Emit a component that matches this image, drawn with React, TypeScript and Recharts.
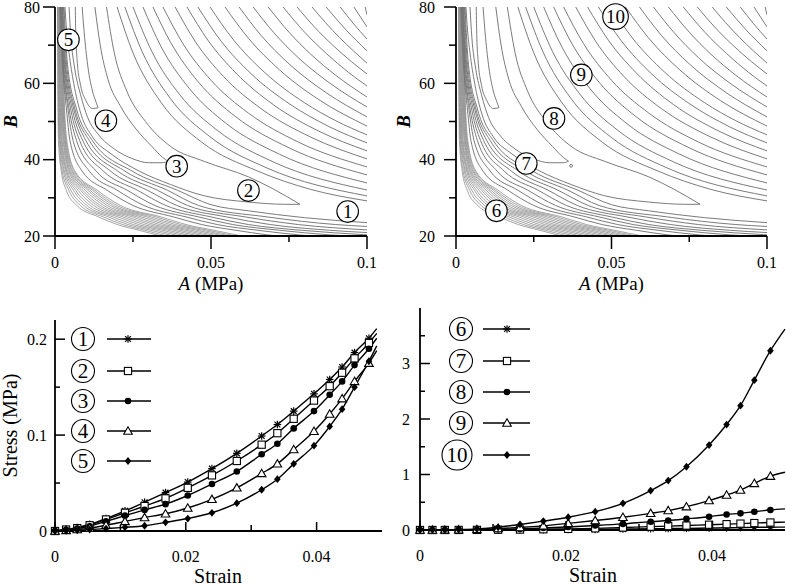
import React from 'react';
import { LineChart, Line, XAxis, YAxis, ReferenceDot, Legend } from 'recharts';

const FONT = '"Liberation Serif", "DejaVu Serif", "Times New Roman", serif';
const GRAY = '#747474';
const BAND_GRAY = '#8e8e8e';

type Pt = [number, number];

// ---------- contour maps: lines in (A [MPa], B) (same field in both maps) ----------
const familyLines: Pt[][] = [
  [[0.0994, 80], [0.0997, 79], [0.1, 77.9]],
  [[0.0958, 80], [0.0979, 77.4], [0.1, 74.76]],
  [[0.0914, 80], [0.0957, 75.6], [0.1, 71.6]],
  [[0.0869, 80], [0.0934, 73.9], [0.1, 68.5]],
  [[0.0824, 80], [0.0867, 75.9], [0.0912, 72.0], [0.1, 65.3]],
  [[0.0776, 80], [0.083, 74.9], [0.089, 70.0], [0.095, 65.7], [0.1, 62.45]],
  [[0.0731, 80], [0.08, 73.4], [0.087, 67.8], [0.094, 62.9], [0.1, 59.3]],
  [[0.0683, 80], [0.075, 73.4], [0.082, 67.6], [0.09, 62.1], [0.1, 56.4]],
  [[0.0635, 80], [0.07, 73.4], [0.078, 66.7], [0.088, 60.1], [0.1, 53.8]],
  [[0.059, 80], [0.066, 72.6], [0.075, 65.1], [0.087, 57.5], [0.1, 51.2]],
  [[0.0545, 80], [0.062, 71.8], [0.072, 63.5], [0.085, 55.5], [0.1, 48.8]],
  [[0.0497, 80], [0.057, 71.6], [0.067, 63.0], [0.08, 54.9], [0.09, 50.2], [0.1, 46.5]],
  [[0.0458, 80], [0.053, 71.3], [0.063, 62.4], [0.075, 54.7], [0.088, 48.6], [0.1, 44.4]],
  [[0.0423, 80], [0.049, 71.3], [0.058, 62.7], [0.07, 54.4], [0.085, 47.3], [0.1, 42.3]],
  [[0.0385, 80], [0.045, 70.9], [0.054, 61.8], [0.066, 53.4], [0.082, 45.9], [0.1, 40.2]],
  [[0.0346, 80], [0.041, 70.4], [0.05, 60.8], [0.062, 52.2], [0.078, 44.6], [0.1, 38.1]],
  [[0.0314, 80], [0.037, 70.8], [0.046, 60.3], [0.058, 51.2], [0.075, 43.1], [0.1, 36.0]],
  [[0.0282, 80], [0.034, 69.6], [0.043, 58.7], [0.055, 49.4], [0.072, 41.4], [0.1, 33.9]],
  [[0.025, 80], [0.031, 68.4], [0.04, 57.0], [0.052, 47.7], [0.07, 39.4], [0.1, 32.05]],
  [[0.0224, 80], [0.028, 68.2], [0.037, 56.0], [0.05, 45.8], [0.068, 37.8], [0.1, 30.5]],
  [[0.0199, 80], [0.025, 68.0], [0.034, 55.0], [0.047, 44.6], [0.065, 37.0], [0.082, 32.2], [0.1, 29.2]],
];

const tongueLines: Pt[][] = [
  [[0.0087, 80], [0.0095, 72], [0.0106, 64], [0.012, 58], [0.0132, 55], [0.0138, 53.6]],
  [[0.0065, 80], [0.0067, 72], [0.0071, 66], [0.0082, 59.5], [0.0099, 55.5], [0.012, 53.4], [0.0138, 53.6]],
  [[0.0128, 80], [0.0145, 70], [0.017, 61], [0.021, 54], [0.026, 48], [0.031, 43.5], [0.0345, 40.6], [0.0362, 39.6]],
  [[0.0045, 80], [0.0051, 72], [0.0063, 64], [0.0082, 57], [0.0105, 51], [0.014, 46.5], [0.019, 42.8], [0.025, 40.2], [0.03, 39.2], [0.0345, 39.2], [0.0362, 39.6]],
  [[0.0165, 80], [0.019, 68], [0.023, 58], [0.029, 50], [0.037, 43.5], [0.048, 39.5], [0.062, 35.5], [0.07, 32.3], [0.0785, 28.3]],
  [[0.0032, 80], [0.0037, 74], [0.0045, 68], [0.006, 60], [0.0083, 52], [0.012, 46], [0.018, 41.5], [0.027, 37], [0.037, 33.5], [0.0475, 30.6], [0.062, 28.9], [0.074, 28.3], [0.0785, 28.3]],
];

const lowerLines: Pt[][] = [
  [[0.0029, 80], [0.004, 65], [0.007, 53], [0.012, 45], [0.0247, 37], [0.0392, 32], [0.05, 28.2], [0.062, 26.6], [0.08, 24.8], [0.1, 23.5]],
  [[0.0027, 80], [0.0037, 65], [0.0065, 53], [0.011, 45], [0.0224, 37], [0.036, 32], [0.046, 28], [0.068, 25], [0.09, 23], [0.1, 22.5]],
  [[0.0025, 80], [0.0034, 65], [0.0061, 53], [0.0099, 45], [0.0201, 37], [0.0328, 32], [0.0425, 28], [0.061, 25], [0.078, 23], [0.1, 21.6]],
  [[0.0023, 80], [0.0032, 65], [0.0056, 53], [0.0089, 45], [0.0178, 37], [0.0296, 32], [0.039, 28], [0.055, 25], [0.069, 23], [0.088, 21.5], [0.1, 20.9]],
  [[0.0021, 80], [0.003, 65], [0.0051, 53], [0.0079, 45], [0.0155, 37], [0.0264, 32], [0.0355, 28], [0.05, 25], [0.062, 23], [0.079, 21.5], [0.1, 20.3]],
  [[0.0019, 80], [0.0028, 65], [0.0046, 53], [0.0069, 45], [0.0132, 37], [0.0231, 32], [0.032, 28], [0.046, 25], [0.057, 23], [0.072, 21.5], [0.088, 20.3], [0.11, 19.5]],
  [[0.0017, 80], [0.0026, 65], [0.0042, 53], [0.0058, 45], [0.011, 37], [0.0199, 32], [0.0285, 28], [0.042, 25], [0.052, 23], [0.065, 21.5], [0.078, 20.3], [0.095, 19.2]],
  [[0.0015, 80], [0.0024, 65], [0.0037, 53], [0.0048, 45], [0.0087, 37], [0.0167, 32], [0.025, 28], [0.038, 25], [0.047, 23], [0.058, 21.5], [0.068, 20.3], [0.085, 19.2]],
];

// dense band of contours along the steep wall: B levels and the A of each line at that level
const bandB = [80, 60, 45, 37, 32, 28, 25, 23, 21.5, 20, 18];
const bandA: number[][] = [
  [0.0008, 0.0009, 0.001, 0.0012, 0.0013, 0.0014, 0.0015, 0.0017, 0.0018, 0.0019, 0.002, 0.0022, 0.0023, 0.0024],
  [0.0009, 0.001, 0.0012, 0.0013, 0.0015, 0.0016, 0.0018, 0.0019, 0.0021, 0.0022, 0.0024, 0.0025, 0.0027, 0.0028],
  [0.0011, 0.0013, 0.0015, 0.0017, 0.0019, 0.0021, 0.0023, 0.0026, 0.0028, 0.003, 0.0032, 0.0034, 0.0036, 0.0038],
  [0.002, 0.0023, 0.0027, 0.003, 0.0034, 0.0037, 0.004, 0.0044, 0.0047, 0.005, 0.0054, 0.0057, 0.0061, 0.0064],
  [0.0036, 0.0044, 0.0051, 0.0059, 0.0066, 0.0074, 0.0082, 0.0089, 0.0097, 0.0105, 0.0112, 0.012, 0.0127, 0.0135],
  [0.007, 0.0081, 0.0092, 0.0102, 0.0113, 0.0124, 0.0135, 0.0145, 0.0156, 0.0167, 0.0178, 0.0188, 0.0199, 0.021],
  [0.014, 0.0155, 0.0171, 0.0186, 0.0202, 0.0217, 0.0232, 0.0248, 0.0263, 0.0278, 0.0294, 0.0309, 0.0325, 0.034],
  [0.02, 0.0217, 0.0234, 0.0251, 0.0268, 0.0285, 0.0302, 0.0318, 0.0335, 0.0352, 0.0369, 0.0386, 0.0403, 0.042],
  [0.027, 0.0288, 0.0307, 0.0325, 0.0344, 0.0362, 0.0381, 0.0399, 0.0418, 0.0436, 0.0455, 0.0473, 0.0492, 0.051],
  [0.034, 0.036, 0.038, 0.04, 0.042, 0.044, 0.046, 0.048, 0.05, 0.052, 0.054, 0.056, 0.058, 0.06],
  [0.05, 0.052, 0.055, 0.057, 0.059, 0.062, 0.064, 0.066, 0.068, 0.071, 0.073, 0.075, 0.078, 0.08],
];

const ovalA = 0.037;
const ovalB = 38.4;

const mapLabelsLeft = [
  { n: '1', a: 0.0938, b: 26.4, r: 10.8 },
  { n: '2', a: 0.062, b: 31.9, r: 10.8 },
  { n: '3', a: 0.039, b: 38.3, r: 10.8 },
  { n: '4', a: 0.0163, b: 50.2, r: 10.8 },
  { n: '5', a: 0.0043, b: 71.4, r: 10.8 },
];
const mapLabelsRight = [
  { n: '6', a: 0.013, b: 26.6, r: 10.8 },
  { n: '7', a: 0.0226, b: 39.0, r: 10.8 },
  { n: '8', a: 0.0315, b: 50.8, r: 10.8 },
  { n: '9', a: 0.0403, b: 62.2, r: 10.8 },
  { n: '10', a: 0.0513, b: 77.5, r: 12.8 },
];

const aTicks = [0, 0.025, 0.05, 0.075, 0.1];
const aMajor = [0, 0.05, 0.1];
const bTicks = [20, 30, 40, 50, 60, 70, 80];
const bMajor = [20, 40, 60, 80];

// ---------- stress–strain curves ----------
const strain = [0, 0.0017, 0.0034, 0.0053, 0.0078, 0.0107, 0.0137, 0.0169, 0.0203, 0.024, 0.0278, 0.0316, 0.034, 0.0365, 0.0396, 0.042, 0.0439, 0.0458, 0.048];
const endStrainLeft = 0.0492;
const endStrainRight = 0.05;
const stress1 = [0, 0.0017, 0.0035, 0.007, 0.013, 0.021, 0.03, 0.04, 0.051, 0.065, 0.081, 0.099, 0.111, 0.125, 0.143, 0.158, 0.171, 0.186, 0.201, 0.211];
const stress2 = [0, 0.0015, 0.003, 0.006, 0.012, 0.019, 0.026, 0.034, 0.045, 0.058, 0.073, 0.09, 0.102, 0.117, 0.136, 0.151, 0.165, 0.18, 0.196, 0.206];
const stress3 = [0, 0.0012, 0.0025, 0.005, 0.01, 0.016, 0.022, 0.028, 0.037, 0.049, 0.062, 0.08, 0.091, 0.107, 0.125, 0.142, 0.156, 0.173, 0.19, 0.201];
const stress4 = [0, 0.0006, 0.0015, 0.003, 0.006, 0.01, 0.014, 0.018, 0.024, 0.033, 0.045, 0.06, 0.07, 0.085, 0.104, 0.122, 0.138, 0.156, 0.175, 0.188];
const stress5 = [0, 0.0002, 0.0007, 0.0015, 0.0025, 0.0038, 0.0055, 0.009, 0.013, 0.019, 0.029, 0.043, 0.054, 0.07, 0.089, 0.109, 0.127, 0.15, 0.177, 0.193];
const stress6 = [0, 0, 0, 0.0003, 0.001, 0.002, 0.003, 0.005, 0.008, 0.012, 0.017, 0.022, 0.026, 0.03, 0.035, 0.04, 0.043, 0.047, 0.05, 0.052];
const stress7 = [0, 0, 0.0002, 0.001, 0.002, 0.005, 0.008, 0.013, 0.02, 0.03, 0.045, 0.06, 0.07, 0.08, 0.095, 0.105, 0.115, 0.125, 0.135, 0.142];
const stress8 = [0, 0, 0.0005, 0.002, 0.005, 0.012, 0.02, 0.035, 0.055, 0.08, 0.11, 0.15, 0.17, 0.2, 0.24, 0.28, 0.3, 0.33, 0.36, 0.38];
const stress9 = [0, 0.0003, 0.001, 0.004, 0.01, 0.025, 0.045, 0.075, 0.12, 0.17, 0.23, 0.3, 0.35, 0.42, 0.53, 0.63, 0.72, 0.84, 0.97, 1.04];
const stress10 = [0, 0.0005, 0.002, 0.008, 0.02, 0.05, 0.1, 0.16, 0.23, 0.33, 0.48, 0.71, 0.89, 1.14, 1.53, 1.9, 2.24, 2.7, 3.23, 3.62];

const leftSeries = [
  { key: 's1', label: '1', kind: 'star', values: stress1 },
  { key: 's2', label: '2', kind: 'square', values: stress2 },
  { key: 's3', label: '3', kind: 'circle', values: stress3 },
  { key: 's4', label: '4', kind: 'triangle', values: stress4 },
  { key: 's5', label: '5', kind: 'diamond', values: stress5 },
];
const rightSeries = [
  { key: 's6', label: '6', kind: 'star', values: stress6 },
  { key: 's7', label: '7', kind: 'square', values: stress7 },
  { key: 's8', label: '8', kind: 'circle', values: stress8 },
  { key: 's9', label: '9', kind: 'triangle', values: stress9 },
  { key: 's10', label: '10', kind: 'diamond', values: stress10 },
];

const leftStressTicks = [0, 0.05, 0.1, 0.15, 0.2];
const leftStressMajor = [0, 0.1, 0.2];
const rightStressTicks = [0, 0.5, 1, 1.5, 2, 2.5, 3, 3.5];
const rightStressMajor = [0, 1, 2, 3];
const strainTicks = [0, 0.01, 0.02, 0.03, 0.04];
const strainMajor = [0, 0.02, 0.04];

// ---------- helpers ----------
const toPts = (l: Pt[]) => l.map(([a, b]) => ({ a, b }));
const bandLines = bandA[0].map((_, i) => bandB.map((b, j) => ({ a: bandA[j][i], b })));
const otherLines = [...lowerLines.map(toPts), ...tongueLines.map(toPts), ...familyLines.map(toPts)];

const buildRows = (series: any[], end: number) =>
  [...strain, end].map((s, i) => {
    const row: any = { strain: s };
    series.forEach((sr) => {
      row[sr.key] = sr.values[i];
    });
    return row;
  });
const rowsLeft = buildRows(leftSeries, endStrainLeft);
const rowsRight = buildRows(rightSeries, endStrainRight);
const markerCount = strain.length;

const isIn = (arr: number[], v: number) => arr.some((m) => Math.abs(m - v) < 1e-9);
const axisStyle = { stroke: '#000', strokeWidth: 1.8 };

function makeXTick(majors: number[], majorLen: number, minorLen: number, dir: number, dy: number) {
  return (props: any) => {
    const { x, y, payload } = props;
    const v = payload.value;
    const major = isIn(majors, v);
    const len = major ? majorLen : minorLen;
    return (
      <g>
        <line x1={x} y1={y} x2={x} y2={y + dir * len} stroke="#000" strokeWidth={1.5} />
        {major && (
          <text x={x} y={y + dy} textAnchor="middle" fontFamily={FONT} fontSize={16} fill="#000">
            {String(v)}
          </text>
        )}
      </g>
    );
  };
}

function makeYTick(majors: number[], majorLen: number, minorLen: number, dir: number, dx: number) {
  return (props: any) => {
    const { x, y, payload } = props;
    const v = payload.value;
    const major = isIn(majors, v);
    const len = major ? majorLen : minorLen;
    return (
      <g>
        <line x1={x} y1={y} x2={x + dir * len} y2={y} stroke="#000" strokeWidth={1.5} />
        {major && (
          <text x={x + dx} y={y + 5.5} textAnchor="end" fontFamily={FONT} fontSize={16} fill="#000">
            {String(v)}
          </text>
        )}
      </g>
    );
  };
}

function Marker({ kind, cx, cy }: { kind: string; cx: number; cy: number }) {
  if (cx == null || cy == null) return null;
  if (kind === 'star') {
    const s = 3.8;
    const d = 2.9;
    return (
      <g stroke="#000" strokeWidth={1.2}>
        <line x1={cx - s} y1={cy} x2={cx + s} y2={cy} />
        <line x1={cx} y1={cy - s} x2={cx} y2={cy + s} />
        <line x1={cx - d} y1={cy - d} x2={cx + d} y2={cy + d} />
        <line x1={cx - d} y1={cy + d} x2={cx + d} y2={cy - d} />
      </g>
    );
  }
  if (kind === 'square') {
    return <rect x={cx - 3.6} y={cy - 3.6} width={7.2} height={7.2} fill="#fff" stroke="#000" strokeWidth={1.1} />;
  }
  if (kind === 'circle') {
    return <circle cx={cx} cy={cy} r={3.3} fill="#000" />;
  }
  if (kind === 'triangle') {
    return (
      <polygon
        points={`${cx},${cy - 4.2} ${cx - 4.3},${cy + 3.2} ${cx + 4.3},${cy + 3.2}`}
        fill="#fff"
        stroke="#000"
        strokeWidth={1.1}
      />
    );
  }
  return <polygon points={`${cx},${cy - 3.9} ${cx + 3.3},${cy} ${cx},${cy + 3.9} ${cx - 3.3},${cy}`} fill="#000" />;
}

const markerDot = (kind: string, key: string) => (props: any) => {
  const { cx, cy, index } = props;
  if (index >= markerCount) return <g key={`${key}-${index}`} />;
  return (
    <g key={`${key}-${index}`}>
      <Marker kind={kind} cx={cx} cy={cy} />
    </g>
  );
};

function CircleNum({ cx, cy, r, text, fs }: any) {
  return (
    <g>
      <circle cx={cx} cy={cy} r={r} fill="#fff" stroke="#000" strokeWidth={1.1} />
      <text x={cx} y={cy + fs * 0.34} textAnchor="middle" fontFamily={FONT} fontSize={fs} fill="#000">
        {text}
      </text>
    </g>
  );
}

function ContourMap({ left, width, yAxisWidth, yTickDx, labels }: any) {
  const xLabel = (p: any) => {
    const vb = p.viewBox || {};
    return (
      <text x={vb.x + vb.width / 2} y={vb.y + 54} textAnchor="middle" fontFamily={FONT} fontSize={19} fill="#000">
        <tspan fontStyle="italic">A</tspan> (MPa)
      </text>
    );
  };
  const yLabel = (p: any) => {
    const vb = p.viewBox || {};
    const cy = vb.y + vb.height / 2;
    return (
      <text
        x={10}
        y={cy}
        transform={`rotate(-90, 10, ${cy})`}
        textAnchor="middle"
        dominantBaseline="central"
        fontFamily={FONT}
        fontSize={19}
        fontStyle="italic"
        fontWeight="bold"
        fill="#000"
      >
        B
      </text>
    );
  };
  return (
    <div style={{ position: 'absolute', left, top: 0 }}>
      <LineChart width={width} height={300} margin={{ top: 7, right: 12, bottom: 0, left: 0 }}>
        <XAxis
          type="number"
          dataKey="a"
          domain={[0, 0.1]}
          ticks={aTicks}
          interval={0}
          allowDataOverflow
          height={64}
          tickSize={0}
          tickMargin={0}
          tickLine={false}
          axisLine={axisStyle}
          tick={makeXTick(aMajor, 13, 6, 1, 32)}
          label={xLabel}
        />
        <XAxis
          xAxisId="top"
          orientation="top"
          type="number"
          domain={[0, 0.1]}
          height={0}
          tick={false}
          tickLine={false}
          axisLine={axisStyle}
        />
        <YAxis
          type="number"
          domain={[20, 80]}
          ticks={bTicks}
          interval={0}
          allowDataOverflow
          width={yAxisWidth}
          tickSize={0}
          tickMargin={0}
          tickLine={false}
          axisLine={axisStyle}
          tick={makeYTick(bMajor, 12, 7, -1, yTickDx)}
          label={yLabel}
        />
        <YAxis
          yAxisId="right"
          orientation="right"
          type="number"
          domain={[20, 80]}
          width={0}
          tick={false}
          tickLine={false}
          axisLine={axisStyle}
        />
        {bandLines.map((pts, i) => (
          <Line
            key={`w${i}`}
            data={pts}
            dataKey="b"
            type="monotone"
            stroke={BAND_GRAY}
            strokeWidth={0.8}
            dot={false}
            activeDot={false}
            isAnimationActive={false}
          />
        ))}
        {otherLines.map((pts, i) => (
          <Line
            key={`c${i}`}
            data={pts}
            dataKey="b"
            type="monotone"
            stroke={GRAY}
            strokeWidth={0.95}
            dot={false}
            activeDot={false}
            isAnimationActive={false}
          />
        ))}
        <ReferenceDot x={ovalA} y={ovalB} r={1.4} fill="none" stroke={GRAY} strokeWidth={1} />
        {labels.map((l: any) => (
          <ReferenceDot
            key={l.n}
            x={l.a}
            y={l.b}
            r={l.r}
            ifOverflow="visible"
            shape={(p: any) => <CircleNum cx={p.cx} cy={p.cy} r={l.r} text={l.n} fs={19} />}
          />
        ))}
      </LineChart>
    </div>
  );
}

function CurveLegend({ series, rows, cx, lineX1, lineX2, markX, radii }: any) {
  return (
    <svg width={200} height={190} style={{ overflow: 'visible', display: 'block' }}>
      {series.map((s: any, i: number) => {
        const y = rows[i];
        return (
          <g key={s.key}>
            <CircleNum cx={cx[i]} cy={y} r={radii[i]} text={s.label} fs={21} />
            <line x1={lineX1} x2={lineX2} y1={y} y2={y} stroke="#000" strokeWidth={1.5} />
            <Marker kind={s.kind} cx={markX} cy={y} />
          </g>
        );
      })}
    </svg>
  );
}

function CurvePanel({ left, width, yAxisWidth, marginRight, marginTop, xAxisHeight, rows, series, yDomain, yTicks, yMajor, yTickDx, yTitle, xTitleX, legend }: any) {
  const xLabel = (p: any) => {
    const vb = p.viewBox || {};
    return (
      <text x={xTitleX} y={vb.y + 52} textAnchor="middle" fontFamily={FONT} fontSize={20} fill="#000">
        Strain
      </text>
    );
  };
  const yLabel = (p: any) => {
    if (!yTitle) return null;
    const vb = p.viewBox || {};
    const cy = vb.y + vb.height / 2;
    return (
      <text
        x={10}
        y={cy}
        transform={`rotate(-90, 10, ${cy})`}
        textAnchor="middle"
        dominantBaseline="central"
        fontFamily={FONT}
        fontSize={20}
        fill="#000"
      >
        {yTitle}
      </text>
    );
  };
  return (
    <div style={{ position: 'absolute', left, top: 300 }}>
      <LineChart width={width} height={287} data={rows} margin={{ top: marginTop, right: marginRight, bottom: 0, left: 0 }}>
        <XAxis
          type="number"
          dataKey="strain"
          domain={[0, 0.05]}
          ticks={strainTicks}
          interval={0}
          height={xAxisHeight}
          tickSize={0}
          tickMargin={0}
          tickLine={false}
          axisLine={axisStyle}
          tick={makeXTick(strainMajor, 9, 6, -1, 31)}
          label={xLabel}
        />
        <YAxis
          type="number"
          domain={yDomain}
          ticks={yTicks}
          interval={0}
          width={yAxisWidth}
          tickSize={0}
          tickMargin={0}
          tickLine={false}
          axisLine={axisStyle}
          tick={makeYTick(yMajor, 10, 5, 1, yTickDx)}
          label={yLabel}
        />
        {series.map((s: any) => (
          <Line
            key={s.key}
            dataKey={s.key}
            type="monotone"
            stroke="#000"
            strokeWidth={1.4}
            dot={markerDot(s.kind, s.key)}
            activeDot={false}
            isAnimationActive={false}
          />
        ))}
        <Legend
          layout="vertical"
          align="center"
          verticalAlign="middle"
          wrapperStyle={{ left: 0, top: 0, width: 200, height: 190 }}
          content={() => legend}
        />
      </LineChart>
    </div>
  );
}

export default function App() {
  return (
    <div style={{ position: 'absolute', left: 0, top: 0, width: 786, height: 587, background: '#fff', overflow: 'hidden' }}>
      <ContourMap left={0} width={379} yAxisWidth={55} yTickDx={-15} labels={mapLabelsLeft} />
      <ContourMap left={393} width={386} yAxisWidth={63} yTickDx={-21} labels={mapLabelsRight} />
      <CurvePanel
        left={0}
        width={400}
        yAxisWidth={55}
        marginRight={18}
        marginTop={20}
        xAxisHeight={56}
        rows={rowsLeft}
        series={leftSeries}
        yDomain={[0, 0.22]}
        yTicks={leftStressTicks}
        yMajor={leftStressMajor}
        yTickDx={-8}
        yTitle="Stress (MPa)"
        xTitleX={218}
        legend={
          <CurveLegend
            series={leftSeries}
            rows={[39, 71, 101, 131, 161]}
            cx={[83, 83, 83, 83, 83]}
            radii={[11.5, 11.5, 11.5, 11.5, 11.5]}
            lineX1={107}
            lineX2={151}
            markX={128}
          />
        }
      />
      <CurvePanel
        left={393}
        width={393}
        yAxisWidth={27}
        marginRight={1}
        marginTop={8}
        xAxisHeight={57}
        rows={rowsRight}
        series={rightSeries}
        yDomain={[0, 4]}
        yTicks={rightStressTicks}
        yMajor={rightStressMajor}
        yTickDx={-10}
        yTitle=""
        xTitleX={200}
        legend={
          <CurveLegend
            series={rightSeries}
            rows={[29, 61, 92, 123, 155]}
            cx={[68, 68, 68, 68, 64]}
            radii={[11.5, 11.5, 11.5, 11.5, 15]}
            lineX1={90}
            lineX2={137}
            markX={114}
          />
        }
      />
    </div>
  );
}
